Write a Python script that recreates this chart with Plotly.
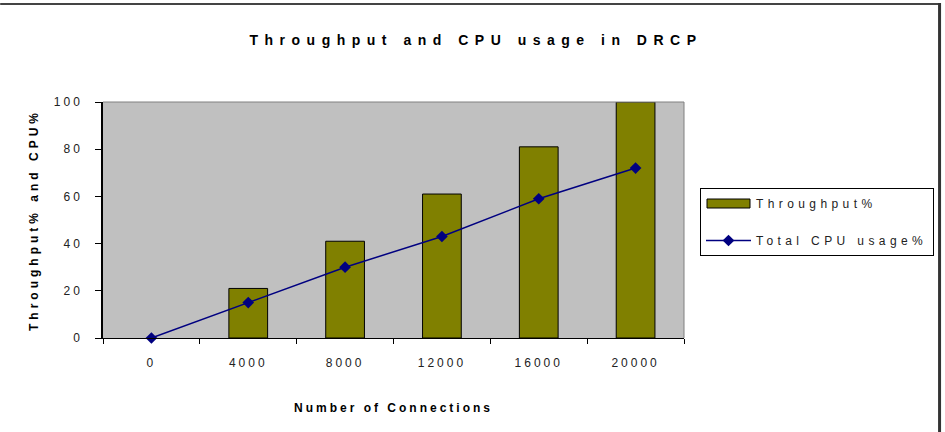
import plotly.graph_objects as go

# ---- data ----
connections = ["0", "4000", "8000", "12000", "16000", "20000"]
throughput_pct = [0, 21, 41, 61, 81, 100]
cpu_usage_pct = [0, 15, 30, 43, 59, 72]
y_ticks = [0, 20, 40, 60, 80, 100]

W, H = 945, 432
L, R, T, B = 103, 685, 102, 338  # plot area in px


def px(x):
    return (x - L) / (R - L)


def py(y):
    return (B - y) / (B - T)


FONT = "Liberation Sans, Arial, sans-serif"

fig = go.Figure()
fig.add_trace(go.Bar(
    x=connections, y=throughput_pct, name="Throughput%",
    width=0.4,
    marker=dict(color="#808000",
                line=dict(color="#000000",
                          width=[0 if v == 0 else 1 for v in throughput_pct])),
    legendgroup="a",
))
fig.add_trace(go.Scatter(
    x=connections, y=cpu_usage_pct, name="Total CPU usage%",
    mode="lines+markers",
    line=dict(color="#000080", width=1.5),
    marker=dict(symbol="diamond", size=9, color="#000080"),
    cliponaxis=False,
    legendgroup="b",
))

fig.update_layout(
    width=W, height=H,
    margin=dict(l=L, r=W - R, t=T, b=H - B, pad=0),
    paper_bgcolor="#ffffff",
    plot_bgcolor="#c0c0c0",
    font=dict(family=FONT, size=12, color="#222222"),
    showlegend=True,
    title=dict(
        text="Throughput and CPU usage in DRCP",
        x=476 / W, xref="container", xanchor="center",
        y=1 - 40 / H, yref="container", yanchor="middle",
        font=dict(family=FONT, size=14, color="#000000", weight="bold"),
    ),
    xaxis=dict(
        type="category",
        categoryorder="array", categoryarray=connections,
        range=[-0.5, len(connections) - 0.5],
        tickson="boundaries",
        ticks="outside", ticklen=5, tickcolor="#000000", tickwidth=1,
        ticklabelstandoff=14,
        showline=True, linecolor="#000000", linewidth=1,
        showgrid=False, zeroline=False,
        tickfont=dict(size=12, color="#222222"),
        title=dict(text="Number of Connections", standoff=34,
                   font=dict(size=12, color="#000000", weight="bold")),
    ),
    xaxis2=dict(
        overlaying="x", anchor="y",
        range=[-0.5, len(connections) - 0.5],
        tickvals=[i - 0.5 for i in range(len(connections) + 1)],
        ticks="inside", ticklen=4, tickcolor="#000000",
        showticklabels=False, showline=False, showgrid=False, zeroline=False,
    ),
    yaxis=dict(
        range=[0, 100], tickvals=y_ticks,
        ticks="outside", ticklen=6, tickcolor="#000000", tickwidth=1,
        ticklabelstandoff=10,
        showline=True, linecolor="#000000", linewidth=1.5,
        showgrid=False, zeroline=False,
        tickfont=dict(size=12, color="#222222"),
        title=dict(text="Throughput% and CPU%", standoff=22,
                   font=dict(size=12, color="#000000", weight="bold")),
    ),
    yaxis2=dict(
        overlaying="y", anchor="x",
        range=[0, 100], tickvals=y_ticks,
        ticks="inside", ticklen=5, tickcolor="#000000",
        showticklabels=False, showline=False, showgrid=False, zeroline=False,
    ),
    legend=dict(
        x=px(700), y=py(188), xanchor="left", yanchor="top",
        xref="paper", yref="paper",
        bgcolor="#ffffff", bordercolor="#000000", borderwidth=1,
        font=dict(size=12, color="#222222"),
        traceorder="grouped", tracegroupgap=18,
        itemwidth=45,
    ),
    shapes=[
        # top & right border of plot area
        dict(type="path", xref="paper", yref="paper",
             path="M0,1 L1,1 L1,0", line=dict(color="#808080", width=1), layer="above"),
        # outer frame: top and right edges
        dict(type="line", xref="paper", yref="paper",
             x0=px(0), x1=px(942), y0=py(4), y1=py(4),
             line=dict(color="#444444", width=2)),
        dict(type="line", xref="paper", yref="paper",
             x0=px(941), x1=px(941), y0=py(3), y1=py(432),
             line=dict(color="#333333", width=3)),
    ],
)

post = """
var gd = document.getElementById('{plot_id}');
var st = document.createElement('style');
st.textContent = '.gtitle{letter-spacing:6.5px} .xtick text{letter-spacing:3px} .ytick text{letter-spacing:3px} .xtitle{letter-spacing:3px} .ytitle{letter-spacing:4px} .legendtext{letter-spacing:4.4px} .legendpoints path:not(.scatterpts){d:path("M21.5,4.5H-21.5V-4.5H21.5Z");stroke:#000000 !important;stroke-width:1px !important;stroke-opacity:1 !important}';
document.head.appendChild(st);
gd.layout.legend.font.size = 12.001;
return Plotly.newPlot(gd, gd.data, gd.layout, {displayModeBar: false});
"""

fig.write_html("out.html", config={"displayModeBar": False}, post_script=post)
